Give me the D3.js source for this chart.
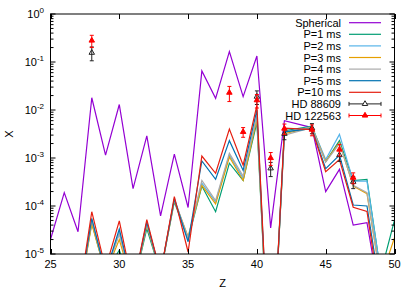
<!DOCTYPE html>
<html>
<head>
<meta charset="utf-8">
<script src="https://cdn.jsdelivr.net/npm/d3@7"></script>
<style>
  body { margin: 0; background: #fff; }
  text { font-family: "Liberation Sans", Arial, sans-serif; font-size: 11px; fill: #000; }
</style>
</head>
<body>
<svg id="chart" width="415" height="291"></svg>
<script>
// atomic numbers used by the model curves (43 is not in the tables)
const zValues = [25, 26, 27, 28, 29, 30, 31, 32, 33, 34, 35, 36, 37, 38, 39, 40, 41, 42, 44, 45, 46, 47, 48, 49, 50];

const spherical = [2e-5, 1.9e-4, 2.9e-5, 1.8e-2, 1.15e-3, 1.3e-2, 2.3e-4, 2.9e-3, 6.2e-5, 1.2e-3, 9.3e-5, 6.5e-2, 1.75e-2, 0.164, 1.9e-2, 0.133, 3.5e-5, 6e-3, 4.3e-3, 2e-4, 5.8e-4, 4e-5, 4.5e-5, 1e-6, 1e-7];
const p1ms = [1e-6, 1e-6, 1e-6, 4.5e-5, 4e-6, 1.2e-5, 2e-6, 3.4e-5, 4e-6, 1.23e-4, 2e-5, 2.6e-4, 7.6e-5, 7.8e-4, 3.4e-4, 5.5e-3, 1e-8, 3.7e-3, 4.6e-3, 8.4e-4, 2.3e-3, 3.4e-4, 3.6e-4, 4e-6, 5.1e-5];
const p2ms = [1e-6, 1e-6, 1e-6, 5.2e-5, 4e-6, 2.8e-5, 2e-6, 4.6e-5, 4e-6, 1.45e-4, 2e-5, 3e-4, 1.2e-4, 1.15e-3, 3.8e-4, 7e-3, 1e-8, 3.4e-3, 4.5e-3, 9.3e-4, 3.1e-3, 3.3e-4, 3.3e-4, 4e-6, 8e-6];
const p3ms = [1e-6, 1e-6, 1e-6, 4.2e-5, 4e-6, 2e-5, 2e-6, 4e-5, 4e-6, 1.3e-4, 2.3e-5, 2.7e-4, 1.1e-4, 1.05e-3, 3.4e-4, 6.5e-3, 1e-8, 3.2e-3, 4.4e-3, 8.5e-4, 2.1e-3, 2.6e-4, 1.8e-4, 3e-6, 2.2e-5];
const p4ms = [1e-6, 1e-6, 1e-6, 5e-5, 4e-6, 2.6e-5, 2e-6, 4.2e-5, 4e-6, 1.35e-4, 2.2e-5, 3.4e-4, 1.3e-4, 1.25e-3, 4.2e-4, 7.5e-3, 1e-8, 3e-3, 4.3e-3, 8.2e-4, 2e-3, 2.7e-4, 1.9e-4, 3e-6, 5e-6];
const p5ms = [1e-6, 1e-6, 1e-6, 5.5e-5, 4e-6, 3.3e-5, 2e-6, 4.6e-5, 4e-6, 1.4e-4, 1.8e-5, 8.7e-4, 3.6e-4, 2.3e-3, 5.5e-4, 1e-2, 1e-8, 3.5e-3, 4.1e-3, 6e-4, 1.15e-3, 1.05e-4, 1e-4, 1.5e-6, 1e-7];
const p10ms = [1e-6, 1e-6, 1e-6, 7.6e-5, 5e-6, 4.9e-5, 2e-6, 5.2e-5, 4e-6, 1.56e-4, 1.1e-5, 1.1e-3, 4.8e-4, 4e-3, 7.1e-4, 1.25e-2, 1e-8, 4.2e-3, 3.9e-3, 5.2e-4, 9.3e-4, 9.4e-5, 7.7e-5, 1e-6, 1e-7];

// observed stars
const hd88609Z = [28, 40, 41, 42, 44, 46, 47];
const hd88609X = [0.156, 0.019, 6.1e-4, 3.2e-3, 4.2e-3, 1.15e-3, 3.2e-4];
const hd88609Err = [0.05, 0.006, 0.0002, 0.0008, 0.001, 0.0003, 0.00009];
const hd122563Z = [28, 38, 39, 40, 41, 42, 44, 46, 47];
const hd122563X = [0.28, 0.023, 3.5e-3, 0.016, 1e-3, 4.1e-3, 3.9e-3, 1.5e-3, 3.9e-4];
const hd122563Err = [0.08, 0.008, 0.0008, 0.005, 0.0003, 0.001, 0.001, 0.0004, 0.0001];

const seriesNames = ["Spherical", "P=1 ms", "P=2 ms", "P=3 ms", "P=4 ms", "P=5 ms", "P=10 ms"];
const seriesValues = [spherical, p1ms, p2ms, p3ms, p4ms, p5ms, p10ms];
const seriesColors = ["#9400d3", "#009e73", "#56b4e9", "#e69f00", "#aaaaaa", "#0072b2", "#e51e10"];

const xTicks = [25, 30, 35, 40, 45, 50];
const yTickExp = [0, -1, -2, -3, -4, -5];

const svg = d3.select("#chart");
const plotL = 50.5, plotR = 394.5, plotT = 14, plotB = 254;

const x = d3.scaleLinear().domain([25, 50]).range([plotL, plotR]);
const y = d3.scaleLog().domain([1e-5, 1]).range([plotB, plotT]);

svg.append("defs").append("clipPath").attr("id", "plotclip")
    .append("rect")
    .attr("x", plotL).attr("y", plotT)
    .attr("width", plotR - plotL).attr("height", plotB - plotT);

//model curves
const line = d3.line()
    .x(d => x(d[0]))
    .y(d => y(d[1]));

const curves = svg.append("g").attr("clip-path", "url(#plotclip)");
seriesValues.forEach((vals, i) => {
    curves.append("path")
        .datum(zValues.map((z, k) => [z, vals[k]]))
        .attr("d", line)
        .attr("fill", "none")
        .attr("stroke", seriesColors[i])
        .attr("stroke-width", 1.2)
        .attr("stroke-linejoin", "miter");
});

// error bars + triangles
const tri = d3.symbol().type(d3.symbolTriangle).size(13);

function drawStars(zs, xs, errs, color, filled) {
    const g = svg.append("g").attr("clip-path", "url(#plotclip)");
    zs.forEach((z, k) => {
        const cx = x(z);
        const lo = Math.max(xs[k] - errs[k], 1e-9);
        const hi = xs[k] + errs[k];
        g.append("line")
            .attr("x1", cx).attr("x2", cx)
            .attr("y1", y(lo)).attr("y2", y(hi))
            .attr("stroke", color).attr("stroke-width", 1);
        [lo, hi].forEach(v => {
            g.append("line")
                .attr("x1", cx - 2).attr("x2", cx + 2)
                .attr("y1", y(v)).attr("y2", y(v))
                .attr("stroke", color).attr("stroke-width", 1);
        });
        g.append("path")
            .attr("d", tri)
            .attr("transform", "translate(" + cx + "," + y(xs[k]) + ")")
            .attr("fill", filled ? color : "none")
            .attr("stroke", color)
            .attr("stroke-width", 1);
    });
}
drawStars(hd88609Z, hd88609X, hd88609Err, "#222", false);
drawStars(hd122563Z, hd122563X, hd122563Err, "#f00", true);

// border and ticks
svg.append("rect")
    .attr("x", plotL).attr("y", plotT)
    .attr("width", plotR - plotL).attr("height", plotB - plotT)
    .attr("fill", "none").attr("stroke", "#000").attr("stroke-width", 1);

const ticks = svg.append("g").attr("stroke", "#000").attr("stroke-width", 1);
xTicks.forEach(t => {
    const px = Math.round(x(t)) + 0.5;
    ticks.append("line").attr("x1", px).attr("x2", px).attr("y1", plotB).attr("y2", plotB - 5);
    ticks.append("line").attr("x1", px).attr("x2", px).attr("y1", plotT).attr("y2", plotT + 5);
    svg.append("text")
        .attr("x", x(t)).attr("y", 268)
        .attr("text-anchor", "middle")
        .text(t);
});

yTickExp.forEach(e => {
    const py = y(Math.pow(10, e));
    ticks.append("line").attr("x1", plotL).attr("x2", plotL + 5).attr("y1", py).attr("y2", py);
    ticks.append("line").attr("x1", plotR).attr("x2", plotR - 5).attr("y1", py).attr("y2", py);
    if (e > -5) {
        for (let m = 2; m <= 9; m++) {
            const my = y(m * Math.pow(10, e - 1));
            ticks.append("line").attr("x1", plotL).attr("x2", plotL + 3).attr("y1", my).attr("y2", my);
            ticks.append("line").attr("x1", plotR).attr("x2", plotR - 3).attr("y1", my).attr("y2", my);
        }
    }
    const lab = svg.append("text")
        .attr("x", 44).attr("y", py + 4)
        .attr("text-anchor", "end");
    lab.append("tspan").text("10");
    lab.append("tspan").attr("dy", -5).attr("font-size", "8px").text(e);
});

// axis titles
svg.append("text")
    .attr("x", x(37.5)).attr("y", 287)
    .attr("text-anchor", "middle")
    .text("Z");
svg.append("text")
    .attr("transform", "translate(13,134) rotate(-90)")
    .attr("text-anchor", "middle")
    .text("X");

// legend
const legend = svg.append("g");
const legendNames = seriesNames.concat(["HD 88609", "HD 122563"]);
legendNames.forEach((name, i) => {
    const ly = 22.7 + i * 11.6;
    legend.append("text")
        .attr("x", 341).attr("y", ly + 4)
        .attr("text-anchor", "end")
        .text(name);
    if (i < seriesNames.length) {
        legend.append("line")
            .attr("x1", 349).attr("x2", 381)
            .attr("y1", ly).attr("y2", ly)
            .attr("stroke", seriesColors[i]).attr("stroke-width", 1.2);
    } else {
        const c = i === 7 ? "#222" : "#f00";
        legend.append("line")
            .attr("x1", 349).attr("x2", 381)
            .attr("y1", ly).attr("y2", ly)
            .attr("stroke", c).attr("stroke-width", 1);
        [349, 381].forEach(ex => {
            legend.append("line")
                .attr("x1", ex).attr("x2", ex)
                .attr("y1", ly - 2).attr("y2", ly + 2)
                .attr("stroke", c).attr("stroke-width", 1);
        });
        legend.append("path")
            .attr("d", tri)
            .attr("transform", "translate(365," + ly + ")")
            .attr("fill", i === 7 ? "#fff" : c)
            .attr("stroke", c).attr("stroke-width", 1);
    }
});
</script>
</body>
</html>
